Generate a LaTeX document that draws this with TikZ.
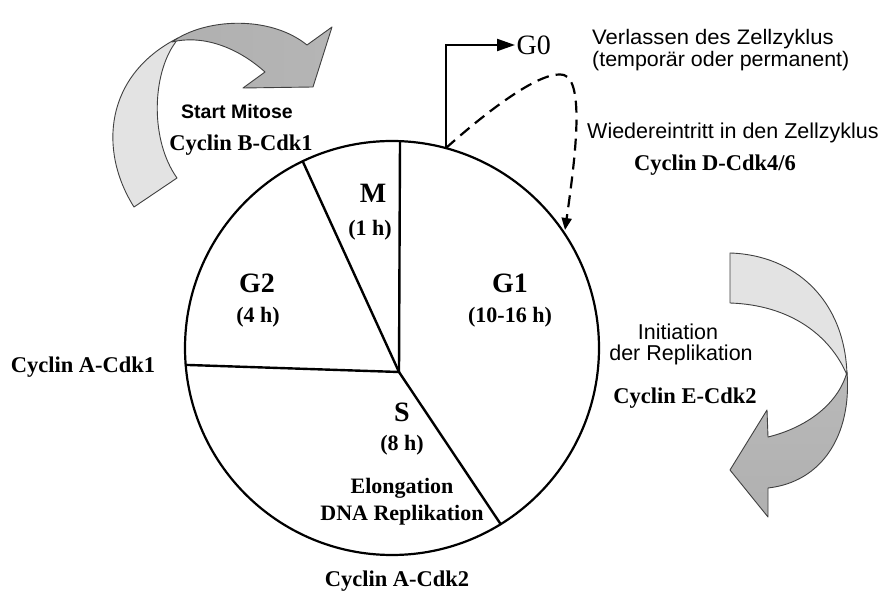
\documentclass[tikz,border=0pt]{standalone}
\usepackage{fontspec}
\setmainfont{Liberation Serif}
\newfontfamily\sansf{Liberation Sans}
\usetikzlibrary{arrows.meta}
\tikzset{
  band/.style={draw=black!75, line width=0.9pt, line join=round},
  backband/.style={band, fill=gray!22},
  pieline/.style={line width=2.4pt, line cap=round},
  ringline/.style={line width=2.2pt},
  cyclab/.style={font=\bfseries\fontsize{22.5pt}{26pt}\selectfont, inner sep=0pt},
  phase/.style={font=\bfseries\fontsize{28pt}{32pt}\selectfont, inner sep=0pt},
  dur/.style={font=\bfseries\fontsize{22pt}{26pt}\selectfont, inner sep=0pt},
  sanslab/.style={font=\sansf\fontsize{21.5pt}{25pt}\selectfont, inner sep=0pt},
  sansbold/.style={font=\sansf\bfseries\fontsize{19.5pt}{23pt}\selectfont, inner sep=0pt},
}
\begin{document}
\begin{tikzpicture}[x=1pt,y=-1pt]
\useasboundingbox (0,0) rectangle (884,593);
\fill[white] (0,0) rectangle (884,593);

% ---------- top-left curved arrow ----------
\path[backband] (134,207) .. controls (98,150) and (105,75) .. (178,38)
  -- (175,43) .. controls (152,75) and (150,140) .. (177,178) -- cycle;
\path[band, left color=gray!62, middle color=gray!12, right color=gray!58]
  (172,42) .. controls (205,18) and (270,15) .. (307,45) -- (332,27) -- (313,87)
  -- (243,88) -- (265,72) .. controls (235,45) and (200,35) .. (172,42) -- cycle;

% ---------- right curved arrow ----------
\path[backband] (730,253) .. controls (795,255) and (845,300) .. (847,375)
  .. controls (830,335) and (790,305) .. (730,303) -- cycle;
\path[band, top color=gray!55, middle color=gray!15, bottom color=gray!62]
  (847,372) .. controls (852,435) and (822,482) .. (768,488) -- (768,517)
  -- (730,470) -- (767,410) -- (768,437)
  .. controls (805,428) and (838,405) .. (847,372) -- cycle;

% ---------- pie ----------
\coordinate (C) at (392,348);
\coordinate (P) at (399,372);
\coordinate (ptop) at (400,141.2);
\coordinate (pmg) at (302.7,161.3);
\coordinate (pleft) at (185.7,364.9);
\coordinate (psg) at (500.7,524.2);
\draw[ringline] (C) circle[radius=207pt];
\draw[pieline] (P) -- (ptop);
\draw[pieline] (P) -- (pmg);
\draw[pieline] (P) -- (pleft);
\draw[pieline] (P) -- (psg);

% phase labels
\node[phase] (M) at (373,193) {M};
\node[dur] (Mh) at (370,230) {(1 h)};
\node[phase] (G2) at (257,283) {G2};
\node[dur] (G2h) at (258,317) {(4 h)};
\node[phase] (G1) at (510,283) {G1};
\node[dur] (G1h) at (510,317) {(10-16 h)};
\node[phase] (S) at (402,412) {S};
\node[dur] (Sh) at (402,445) {(8 h)};
\node[dur] (elong) at (402,488) {Elongation};
\node[dur] (dna) at (402,515) {DNA Replikation};

% ---------- G0 ----------
\coordinate (g0foot) at (446,148);
\node[font=\fontsize{28pt}{32pt}\selectfont, inner sep=1.5pt, anchor=west] (G0) at (515,45) {G0};
\draw[line width=2.2pt, -{Triangle[length=18pt,width=12pt]}] (g0foot) |- (G0.west);
\coordinate (reentry) at (565,230);
\draw[line width=2.2pt, dash pattern=on 12pt off 7pt, -{Triangle[length=12pt,width=10pt]}]
  (g0foot) .. controls (500,100) and (545,70) .. (564,75)
  .. controls (585,82) and (575,160) .. (reentry);

% ---------- texts ----------
\node[sansbold] (start) at (237,112) {Start Mitose};
\node[cyclab] (cycB) at (241,145) {Cyclin B-Cdk1};
\node[cyclab] (cycA1) at (83,367) {Cyclin A-Cdk1};
\node[cyclab] (cycA2) at (397,581) {Cyclin A-Cdk2};
\node[sanslab, anchor=west, font=\sansf\fontsize{21pt}{25pt}\selectfont] (verl) at (592,39) {\scalebox{1.05}[1]{Verlassen des Zellzyklus}};
\node[sanslab, anchor=west, font=\sansf\fontsize{21pt}{25pt}\selectfont] (temp) at (592,61) {\scalebox{1.02}[1]{(temporär oder permanent)}};
\node[sanslab, anchor=west] (wied) at (587,133) {Wiedereintritt in den Zellzyklus};
\node[cyclab] (cycD) at (715,165) {Cyclin D-Cdk4/6};
\node[sanslab] (init) at (678,332) {Initiation};
\node[sanslab] (derrep) at (681,355) {der Replikation};
\node[cyclab] (cycE) at (685,398) {Cyclin E-Cdk2};
\end{tikzpicture}
\end{document}
